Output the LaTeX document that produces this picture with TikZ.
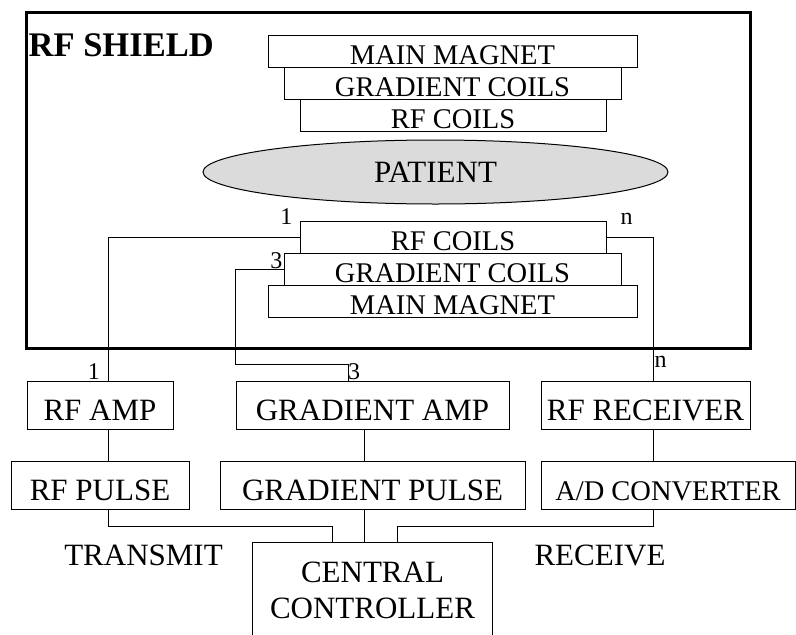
\documentclass[tikz,border=0pt]{standalone}
\usepackage{fontspec}
\setmainfont{Liberation Serif}
\usetikzlibrary{shapes.geometric,calc}

\begin{document}
\begin{tikzpicture}[x=1pt,y=-1pt,
  coil/.style={draw,line width=1pt,inner sep=0pt,text height=29.5pt,text depth=2.5pt,font=\fontsize{28.5}{30}\selectfont},
  block/.style={draw,line width=1pt,inner sep=0pt,text height=39pt,text depth=9.5pt,font=\fontsize{31}{36}\selectfont},
  wire/.style={line width=1pt},
  num/.style={inner sep=0pt,font=\fontsize{24}{24}\selectfont},
  sidetext/.style={inner sep=0pt,anchor=base,font=\fontsize{31}{36}\selectfont}]
\useasboundingbox (0,0) rectangle (796,635);
\clip (0,0) rectangle (796,635);
% shield
\node[draw,line width=3pt,inner sep=0pt,minimum width=724,minimum height=336] (shield) at (388,180) {};
\node[anchor=base west,inner sep=0pt,font=\bfseries\fontsize{34.5}{36}\selectfont] (shieldtxt) at ([xshift=4,yshift=-46]shield.north west) {RF SHIELD};
% magnet stack, top half
\node[coil,minimum width=369] (magT) at (452.5,51) {MAIN MAGNET};
\node[coil,minimum width=337] (gcT) at (452.5,83) {GRADIENT COILS};
\node[coil,minimum width=306] (rfT) at (453,115) {RF COILS};
\node[ellipse,draw,line width=1pt,fill=black!14,inner sep=0pt,minimum width=465,minimum height=64,font=\fontsize{31}{36}\selectfont] (patient) at (435.5,172) {PATIENT};
% magnet stack, bottom half
\node[coil,minimum width=306] (rfB) at (453,237) {RF COILS};
\node[coil,minimum width=337] (gcB) at (452.5,269) {GRADIENT COILS};
\node[coil,minimum width=369] (magB) at (452.5,301) {MAIN MAGNET};
% electronics
\node[block,minimum width=146] (rfamp) at (100,405.25) {RF AMP};
\node[block,minimum width=273] (gradamp) at (372.5,405.25) {GRADIENT AMP};
\node[block,minimum width=209] (rfrec) at (645.5,405.25) {RF RECEIVER};
\node[block,minimum width=178] (rfpulse) at (100,485.5) {RF PULSE};
\node[block,minimum width=305] (gradpulse) at (372.5,485.5) {GRADIENT PULSE};
\node[block,minimum width=254,font=\fontsize{28.5}{36}\selectfont] (adc) at (668,485.5) {A/D CONVERTER};
\node[draw,line width=1pt,inner sep=0pt,minimum width=240,minimum height=130,anchor=north] (ctrl) at (372.5,542) {};
\node[anchor=north,align=center,inner sep=0pt,font=\fontsize{31}{36}\selectfont] (ctrltxt) at ([yshift=-19.5]ctrl.north) {CENTRAL\\CONTROLLER};
\node[sidetext] (tx) at (143.5,565) {TRANSMIT};
\node[sidetext] (rx) at (600,565) {RECEIVE};
% channel numbers
\node[num,anchor=base east] (one) at ([xshift=-7,yshift=-4]rfB.north west) {1};
\node[num,anchor=base west] (nn) at ([xshift=14,yshift=-4]rfB.north east) {n};
\node[num,anchor=base east] (three) at ([xshift=-1,yshift=1]gcB.west) {3};
\node[num,anchor=base east] (oneout) at ([yshift=1]rfamp.north) {1};
\node[num,anchor=base west] (threeout) at ([xshift=-24.5,yshift=1]gradamp.north) {3};
\node[num,anchor=base west] (nout) at ([xshift=9,yshift=13]rfrec.north) {n};
% wiring
\draw[wire] (rfB.west) -| ([xshift=8]rfamp.north);
\draw[wire] (gcB.west) -| ($(gradamp.north west)+(0,-16)$) -| ([xshift=-24.5]gradamp.north);
\draw[wire] (rfB.east) -| ([xshift=7.5]rfrec.north);
\draw[wire] ([xshift=8]rfamp.south) -- ([xshift=8]rfpulse.north);
\draw[wire] ([xshift=-8]gradamp.south) -- ([xshift=-8]gradpulse.north);
\draw[wire] ([xshift=7.5]rfrec.south) -- ([xshift=-15]adc.north);
\draw[wire] ([xshift=8]rfpulse.south) |- ($([xshift=-40.5]ctrl.north)+(0,-16)$) -- ([xshift=-40.5]ctrl.north);
\draw[wire] ([xshift=-8]gradpulse.south) -- ([xshift=-8]ctrl.north);
\draw[wire] ([xshift=-15]adc.south) |- ($([xshift=24.5]ctrl.north)+(0,-16)$) -- ([xshift=24.5]ctrl.north);
\end{tikzpicture}
\end{document}
